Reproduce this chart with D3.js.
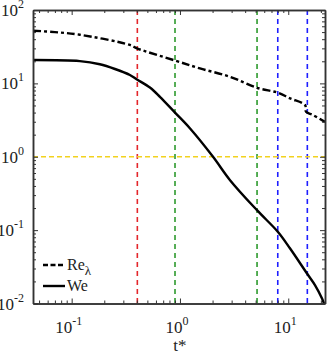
<!DOCTYPE html>
<html>
<head>
<meta charset="utf-8">
<script src="https://cdn.jsdelivr.net/npm/d3@7"></script>
<style>
  body { margin: 0; background: #fff; }
  svg text { font-family: "Liberation Serif", "Times New Roman", Times, "DejaVu Serif", serif; }
</style>
</head>
<body>
<script>
const W = 329, H = 354;
const margin = {top: 10, right: 4, bottom: 50.5, left: 33};

// data
const tRe   = [0.044, 0.07, 0.119, 0.345, 0.401, 0.90, 1.53, 2.90, 5.14, 8.04, 10.4, 14.3, 14.6, 16.9, 21.8];
const reVal = [52.2, 50.0, 46.0, 33.4, 30.0, 20.5, 16.0, 12.3, 8.71, 7.45, 6.24, 5.06, 4.10, 3.70, 2.99];
const tWe   = [0.044, 0.119, 0.182, 0.251, 0.345, 0.401, 0.528, 0.653, 0.90, 1.24, 2.02, 2.90, 5.14, 8.04, 10.4, 14.9, 17.7, 20.5, 21.4];
const weVal = [20.8, 20.1, 18.2, 15.7, 13.0, 11.3, 8.77, 6.56, 4.00, 2.43, 1.0, 0.48, 0.187, 0.0944, 0.0561, 0.0256, 0.0177, 0.0117, 0.00997];

const vLines = [0.404, 0.90, 5.15, 8.0, 15.0];
const vColors = ["#e3262b", "#2e9a2e", "#2e9a2e", "#1f1fff", "#1f1fff"];
const hLine = 1;
const xMajor = [0.1, 1, 10], xExp = ["-1", "0", "1"];
const yMajor = [0.01, 0.1, 1, 10, 100], yExp = ["-2", "-1", "0", "1", "2"];

const x = d3.scaleLog().domain([0.04395, 21.84]).range([margin.left, W - margin.right]);
const y = d3.scaleLog().domain([0.01, 100]).range([H - margin.bottom, margin.top]);

const svg = d3.select("body").append("svg").attr("width", W).attr("height", H);

const minors = (dom) => {
  const out = [];
  for (let e = -3; e <= 3; e++)
    for (let k = 2; k <= 9; k++) {
      const v = k * Math.pow(10, e);
      if (v > dom[0] && v < dom[1]) out.push(v);
    }
  return out;
};

// reference lines
svg.selectAll(".vline").data(vLines).enter().append("line")
  .attr("x1", d => x(d)).attr("x2", d => x(d))
  .attr("y1", margin.top).attr("y2", H - margin.bottom)
  .attr("stroke", (d, i) => vColors[i]).attr("stroke-width", 1.6)
  .attr("stroke-dasharray", "5,4");

svg.append("line")
  .attr("x1", margin.left).attr("x2", W - margin.right)
  .attr("y1", y(hLine)).attr("y2", y(hLine))
  .attr("stroke", "#f2d21e").attr("stroke-width", 1.6)
  .attr("stroke-dasharray", "5,3");

// curves
const line = d3.line().x(d => x(d[0])).y(d => y(d[1])).curve(d3.curveCatmullRom.alpha(0.5));
svg.append("path").datum(d3.zip(tRe, reVal)).attr("d", line)
  .attr("fill", "none").attr("stroke", "#000").attr("stroke-width", 2.4)
  .attr("stroke-dasharray", "8,3,3,3");
svg.append("path").datum(d3.zip(tWe, weVal)).attr("d", line)
  .attr("fill", "none").attr("stroke", "#000").attr("stroke-width", 2.4);

// axes with inward ticks on all sides
const x0 = margin.left, x1 = W - margin.right, y0 = H - margin.bottom, y1 = margin.top;
const addAxis = (axis, tr) => svg.append("g").attr("transform", tr).call(axis)
  .call(g => g.selectAll("text").remove())
  .call(g => g.selectAll("line").attr("stroke", "#333").attr("stroke-width", 1))
  .call(g => g.select(".domain").attr("stroke", "#333").attr("stroke-width", 1.5));

const xMin = minors(x.domain()), yMin = minors(y.domain());
addAxis(d3.axisBottom(x).tickValues(xMajor).tickSize(-5).tickSizeOuter(0), `translate(0,${y0})`);
addAxis(d3.axisBottom(x).tickValues(xMin).tickSize(-3).tickSizeOuter(0), `translate(0,${y0})`);
addAxis(d3.axisTop(x).tickValues(xMajor).tickSize(-5).tickSizeOuter(0), `translate(0,${y1})`);
addAxis(d3.axisTop(x).tickValues(xMin).tickSize(-3).tickSizeOuter(0), `translate(0,${y1})`);
addAxis(d3.axisLeft(y).tickValues(yMajor).tickSize(-5).tickSizeOuter(0), `translate(${x0},0)`);
addAxis(d3.axisLeft(y).tickValues(yMin).tickSize(-3).tickSizeOuter(0), `translate(${x0},0)`);
addAxis(d3.axisRight(y).tickValues(yMajor).tickSize(-5).tickSizeOuter(0), `translate(${x1},0)`);
addAxis(d3.axisRight(y).tickValues(yMin).tickSize(-3).tickSizeOuter(0), `translate(${x1},0)`);

// tick labels with superscript exponents
xMajor.forEach((v, i) => {
  const t = svg.append("text").attr("x", x(v) - 3).attr("y", 333)
    .attr("text-anchor", "middle").style("font-size", "17px").attr("fill", "#222");
  t.append("tspan").text("10");
  t.append("tspan").attr("dy", -8).style("font-size", "12px").text(xExp[i]);
});
yMajor.forEach((v, i) => {
  const t = svg.append("text").attr("x", 24).attr("y", y(v) + 6)
    .attr("text-anchor", "end").style("font-size", "17px").attr("fill", "#222");
  t.append("tspan").text("10");
  t.append("tspan").attr("dy", -8).style("font-size", "12px").text(yExp[i]);
});

svg.append("text").attr("x", x(1)).attr("y", 351).attr("fill", "#222")
  .attr("text-anchor", "middle").style("font-size", "17px").text("t*");

// legend
const lg = svg.append("g");
lg.append("line").attr("x1", 43).attr("x2", 65).attr("y1", 265).attr("y2", 265)
  .attr("stroke", "#000").attr("stroke-width", 2.4).attr("stroke-dasharray", "5,2.5");
const re = lg.append("text").attr("x", 67).attr("y", 270).attr("fill", "#222").style("font-size", "16px");
re.append("tspan").text("Re");
re.append("tspan").attr("dy", 5).style("font-size", "13px").text("λ");
lg.append("line").attr("x1", 43).attr("x2", 65).attr("y1", 286).attr("y2", 286)
  .attr("stroke", "#000").attr("stroke-width", 2.4);
lg.append("text").attr("x", 67).attr("y", 291).attr("fill", "#222").style("font-size", "16px").text("We");
</script>
</body>
</html>
